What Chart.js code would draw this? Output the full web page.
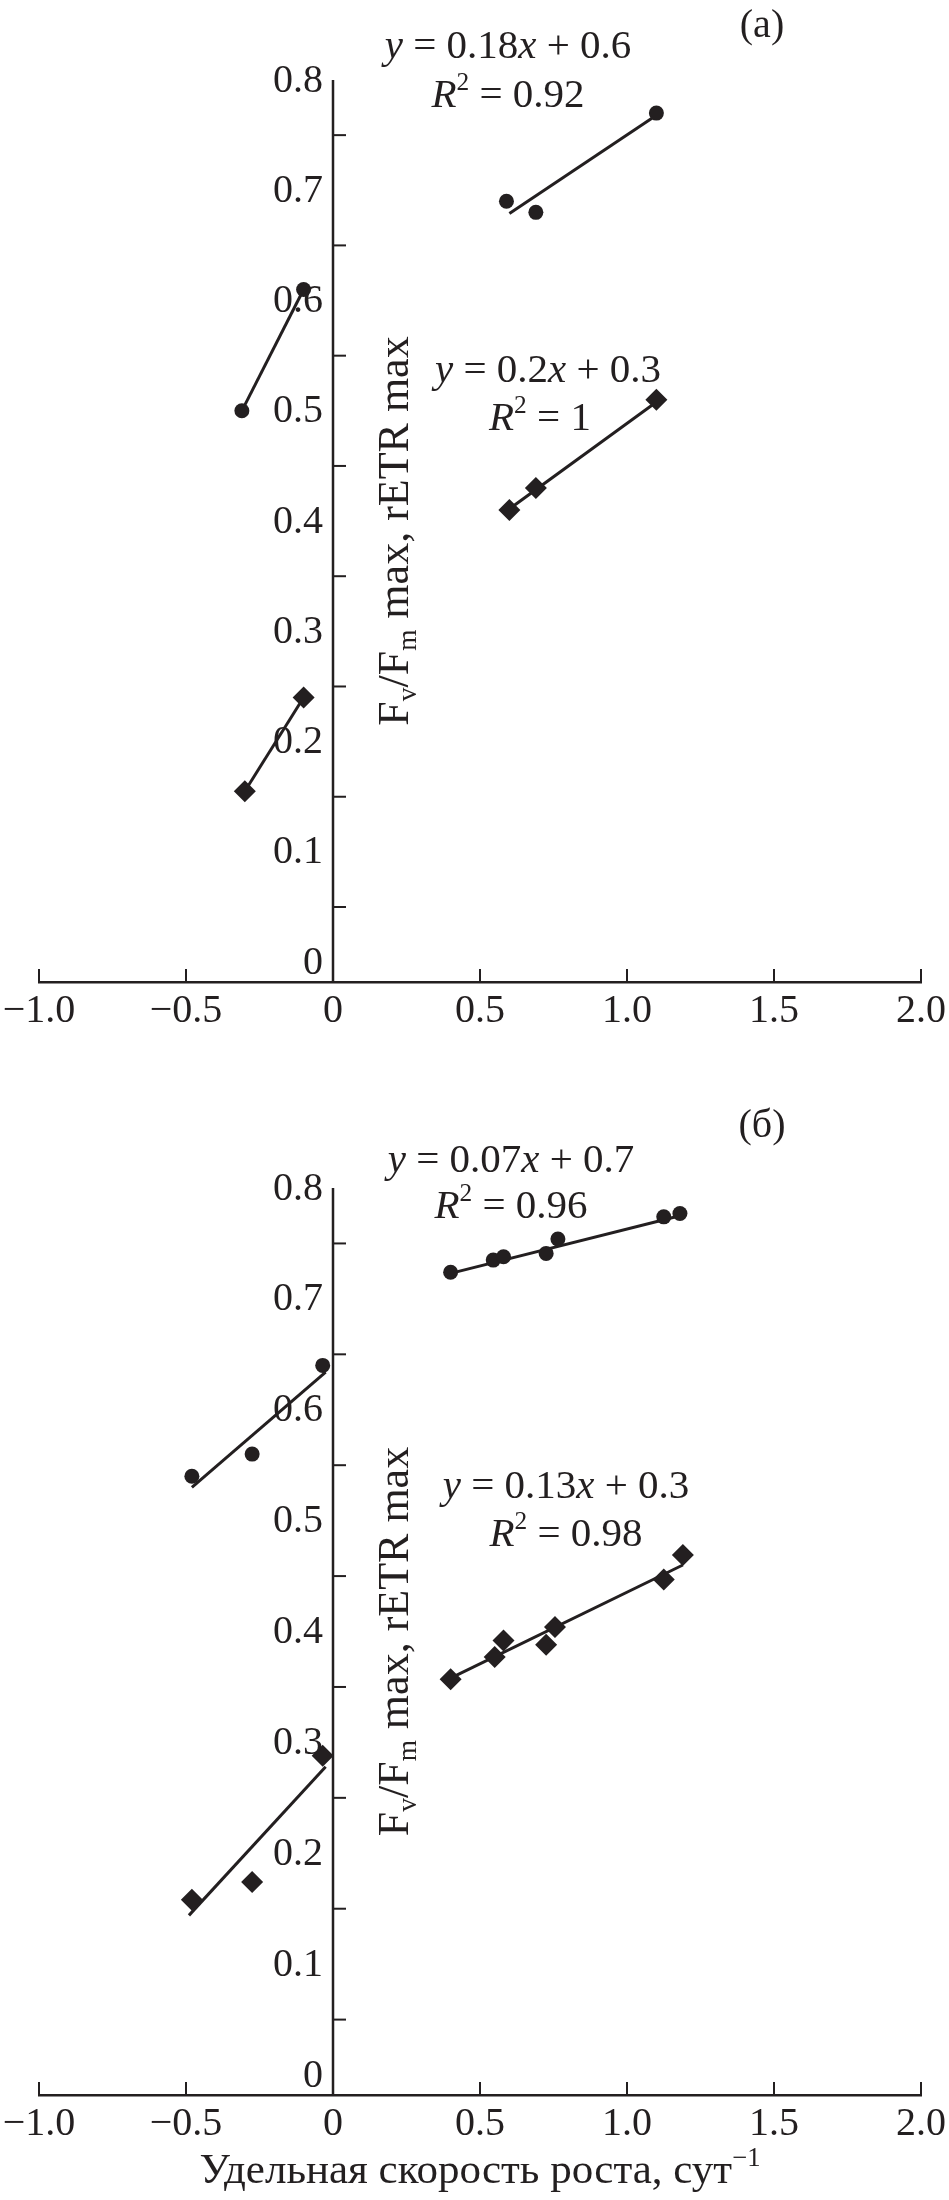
<!DOCTYPE html>
<html>
<head>
<meta charset="utf-8">
<script src="https://cdn.jsdelivr.net/npm/chart.js@4.4.1/dist/chart.umd.min.js"></script>
<style>
  body { margin: 0; background: #fff; width: 949px; height: 2200px; position: relative; overflow: hidden; }
  canvas { position: absolute; left: 0; }
  #chartA { top: 0; }
  #chartB { top: 1080px; }
</style>
</head>
<body>
<canvas id="chartA" width="949" height="1060"></canvas>
<canvas id="chartB" width="949" height="1120"></canvas>
<script>
// axis values
const xTickValues = [-1.0, -0.5, 0, 0.5, 1.0, 1.5, 2.0];
const yLabelValues = [0, 0.1, 0.2, 0.3, 0.4, 0.5, 0.6, 0.7, 0.8];
const yTickMarks = [0.05, 0.15, 0.25, 0.35, 0.45, 0.55, 0.65, 0.75];

// panel (a): circles = Fv/Fm max, diamonds = rETR max
const aCircLeftX = [-0.31, -0.10];
const aCircLeftY = [0.50, 0.61];
const aCircRightX = [0.59, 0.69, 1.10];
const aCircRightY = [0.69, 0.68, 0.77];
const aDiamLeftX = [-0.30, -0.10];
const aDiamLeftY = [0.155, 0.24];
const aDiamRightX = [0.60, 0.69, 1.10];
const aDiamRightY = [0.41, 0.43, 0.51];
// trend lines (end points)
const aFitCircLeftX = [-0.31, -0.10];
const aFitCircLeftY = [0.50, 0.61];
const aFitCircRightX = [0.60, 1.10];
const aFitCircRightY = [0.679, 0.768];
const aFitDiamLeftX = [-0.30, -0.10];
const aFitDiamLeftY = [0.155, 0.24];
const aFitDiamRightX = [0.61, 1.10];
const aFitDiamRightY = [0.413, 0.508];

// panel (б)
const bCircLeftX = [-0.48, -0.275, -0.035];
const bCircLeftY = [0.54, 0.56, 0.64];
const bCircRightX = [0.40, 0.545, 0.58, 0.725, 0.765, 1.125, 1.18];
const bCircRightY = [0.724, 0.735, 0.738, 0.741, 0.754, 0.774, 0.777];
const bDiamLeftX = [-0.48, -0.275, -0.035];
const bDiamLeftY = [0.158, 0.174, 0.288];
const bDiamRightX = [0.40, 0.55, 0.58, 0.725, 0.755, 1.125, 1.19];
const bDiamRightY = [0.357, 0.377, 0.392, 0.388, 0.404, 0.447, 0.469];
const bFitCircLeftX = [-0.48, -0.025];
const bFitCircLeftY = [0.53, 0.634];
const bFitCircRightX = [0.40, 1.18];
const bFitCircRightY = [0.723, 0.775];
const bFitDiamLeftX = [-0.49, -0.025];
const bFitDiamLeftY = [0.144, 0.278];
const bFitDiamRightX = [0.40, 1.19];
const bFitDiamRightY = [0.358, 0.46];

const INK = '#231f20';
const SERIF = '"Liberation Serif", "Times New Roman", serif';

function pts(xs, ys) {
    return xs.map((x, i) => ({ x: x, y: ys[i] }));
}

function pointSet(xs, ys, style) {
    return {
        data: pts(xs, ys),
        showLine: false,
        pointStyle: style,
        pointRadius: style === 'circle' ? 7.5 : 11,
        pointBackgroundColor: INK,
        pointBorderColor: INK,
        pointBorderWidth: 0
    };
}

function lineSet(xs, ys) {
    return {
        data: pts(xs, ys),
        showLine: true,
        borderColor: INK,
        borderWidth: 3,
        pointRadius: 0,
        fill: false
    };
}

// rich text: segments {t, it, sup, sub}
function segFont(s, size) {
    let sz = size;
    if (s.sup || s.sub) sz = size * 0.62;
    return (s.it ? 'italic ' : '') + sz + 'px ' + SERIF;
}

function drawRich(ctx, segs, cx, cy, size) {
    ctx.textBaseline = 'alphabetic';
    ctx.textAlign = 'left';
    let w = 0;
    segs.forEach(s => { ctx.font = segFont(s, size); w += ctx.measureText(s.t).width; });
    let x = cx - w / 2;
    const base = cy + size * 0.33;
    segs.forEach(s => {
        ctx.font = segFont(s, size);
        let y = base;
        if (s.sup) y = base - size * 0.4;
        if (s.sub) y = base + size * 0.2;
        ctx.fillText(s.t, x, y);
        x += ctx.measureText(s.t).width;
    });
}

const yTitle = [
    { t: 'F' }, { t: 'v', sub: true }, { t: '/F' }, { t: 'm', sub: true }, { t: ' max, rETR max' }
];

const panelDecor = {
    id: 'panelDecor',
    afterDraw(chart, args, opts) {
        const ctx = chart.ctx;
        const xs = chart.scales.x;
        const ys = chart.scales.y;
        const area = chart.chartArea;
        const x0 = xs.getPixelForValue(0);
        ctx.save();
        ctx.strokeStyle = INK;
        ctx.fillStyle = INK;
        ctx.lineWidth = 2.5;
        // y axis line at x = 0
        ctx.beginPath();
        ctx.moveTo(x0, area.bottom);
        ctx.lineTo(x0, ys.getPixelForValue(0.8));
        ctx.stroke();
        // y tick marks (inside, to the right)
        ctx.lineWidth = 2;
        yTickMarks.forEach(v => {
            const py = ys.getPixelForValue(v);
            ctx.beginPath();
            ctx.moveTo(x0, py);
            ctx.lineTo(x0 + 13, py);
            ctx.stroke();
        });
        // x tick marks (inside, upward)
        xTickValues.forEach(v => {
            if (v === 0) return;
            const px = xs.getPixelForValue(v);
            ctx.beginPath();
            ctx.moveTo(px, area.bottom);
            ctx.lineTo(px, area.bottom - 13);
            ctx.stroke();
        });
        // y labels
        ctx.font = '40px ' + SERIF;
        ctx.textAlign = 'right';
        ctx.textBaseline = 'middle';
        yLabelValues.forEach(v => {
            const txt = v === 0 ? '0' : v.toFixed(1);
            ctx.fillText(txt, x0 - 10, ys.getPixelForValue(v) + 1);
        });
        // y axis title, rotated
        ctx.save();
        ctx.translate(x0 + 60, (area.top + area.bottom) / 2);
        ctx.rotate(-Math.PI / 2);
        drawRich(ctx, yTitle, 0, 0, 44);
        ctx.restore();
        // panel letter
        ctx.font = '40px ' + SERIF;
        ctx.textAlign = 'center';
        ctx.textBaseline = 'middle';
        ctx.fillText(opts.letter, opts.letterPos[0], opts.letterPos[1]);
        // equations
        opts.notes.forEach(n => drawRich(ctx, n.segs, n.pos[0], n.pos[1], 41));
        // x title
        if (opts.xTitle) drawRich(ctx, opts.xTitle, (area.left + area.right) / 2, opts.xTitleY, 43);
        ctx.restore();
    }
};

function makeOptions(padTop, padBottom, decor) {
    return {
        responsive: false,
        animation: false,
        layout: { padding: { left: 39, right: 28, top: padTop, bottom: padBottom } },
        plugins: {
            legend: { display: false },
            tooltip: { enabled: false },
            panelDecor: decor
        },
        scales: {
            x: {
                type: 'linear',
                min: -1.0,
                max: 2.0,
                afterBuildTicks: s => { s.ticks = xTickValues.map(v => ({ value: v })); },
                afterFit: s => {
                    s.height = 60;
                    s.paddingLeft = 0;
                    s.paddingRight = 0;
                },
                ticks: {
                    color: INK,
                    padding: 5,
                    maxRotation: 0,
                    font: { family: SERIF, size: 40 },
                    callback: v => v === 0 ? '0' : (v < 0 ? '\u2212' : '') + Math.abs(v).toFixed(1)
                },
                grid: { drawOnChartArea: false, drawTicks: false },
                border: { display: true, color: INK, width: 2.5 }
            },
            y: {
                type: 'linear',
                min: -0.018,
                max: 0.8,
                display: false
            }
        }
    };
}

function eq(a, b) {
    return [{ t: 'y', it: true }, { t: ' = ' + a }, { t: 'x', it: true }, { t: ' + ' + b }];
}
function r2(v) {
    return [{ t: 'R', it: true }, { t: '2', sup: true }, { t: ' = ' + v }];
}

new Chart(document.getElementById('chartA'), {
    type: 'scatter',
    data: {
        datasets: [
            pointSet(aCircLeftX, aCircLeftY, 'circle'),
            pointSet(aCircRightX, aCircRightY, 'circle'),
            pointSet(aDiamLeftX, aDiamLeftY, 'rectRot'),
            pointSet(aDiamRightX, aDiamRightY, 'rectRot'),
            lineSet(aFitCircLeftX, aFitCircLeftY),
            lineSet(aFitCircRightX, aFitCircRightY),
            lineSet(aFitDiamLeftX, aFitDiamLeftY),
            lineSet(aFitDiamRightX, aFitDiamRightY)
        ]
    },
    options: makeOptions(80, 18, {
        letter: '(a)',
        letterPos: [762, 26],
        notes: [
            { segs: eq('0.18', '0.6'), pos: [508, 44] },
            { segs: r2('0.92'), pos: [508, 93] },
            { segs: eq('0.2', '0.3'), pos: [548, 368] },
            { segs: r2('1'), pos: [540, 416] }
        ]
    }),
    plugins: [panelDecor]
});

new Chart(document.getElementById('chartB'), {
    type: 'scatter',
    data: {
        datasets: [
            pointSet(bCircLeftX, bCircLeftY, 'circle'),
            pointSet(bCircRightX, bCircRightY, 'circle'),
            pointSet(bDiamLeftX, bDiamLeftY, 'rectRot'),
            pointSet(bDiamRightX, bDiamRightY, 'rectRot'),
            lineSet(bFitCircLeftX, bFitCircLeftY),
            lineSet(bFitCircRightX, bFitCircRightY),
            lineSet(bFitDiamLeftX, bFitDiamLeftY),
            lineSet(bFitDiamRightX, bFitDiamRightY)
        ]
    },
    options: makeOptions(108, 45, {
        letter: '(б)',
        letterPos: [762, 46],
        notes: [
            { segs: eq('0.07', '0.7'), pos: [511, 78] },
            { segs: r2('0.96'), pos: [511, 124] },
            { segs: eq('0.13', '0.3'), pos: [566, 404] },
            { segs: r2('0.98'), pos: [566, 452] }
        ],
        xTitle: [{ t: 'Удельная скорость роста, сут' }, { t: '\u22121', sup: true }],
        xTitleY: 1089
    }),
    plugins: [panelDecor]
});
</script>
</body>
</html>
